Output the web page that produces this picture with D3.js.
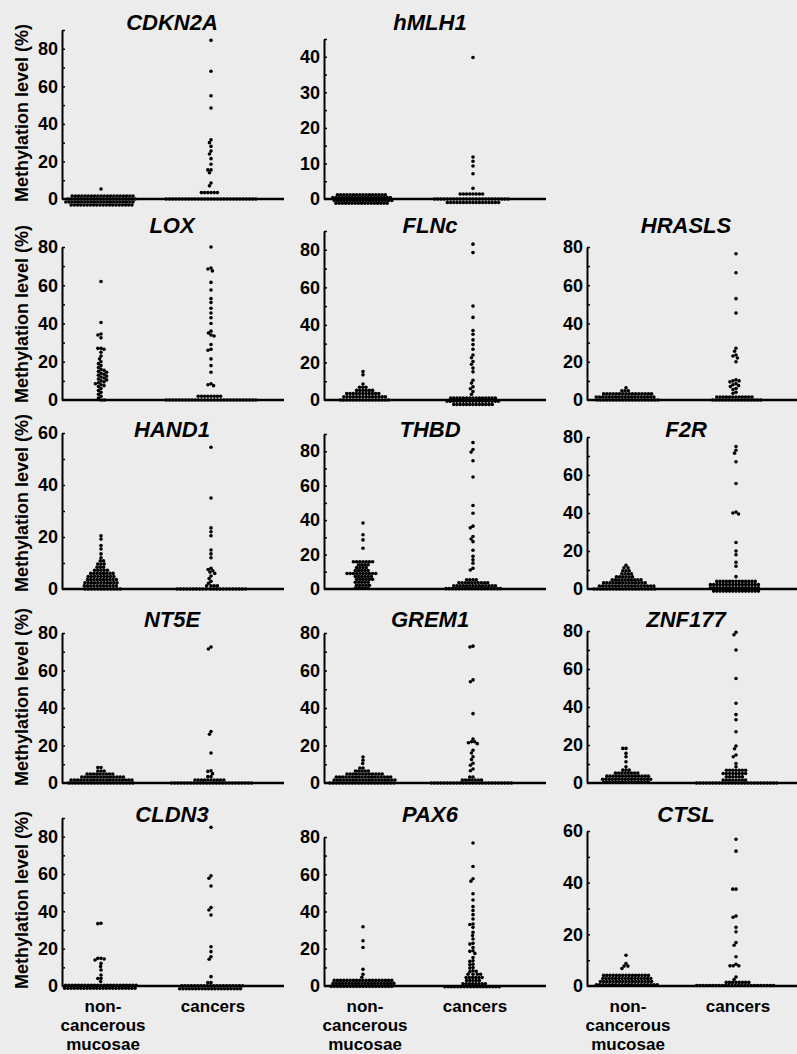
<!DOCTYPE html>
<html>
<head>
<meta charset="utf-8">
<script src="https://cdn.jsdelivr.net/npm/d3@7"></script>
<style>
  body { margin: 0; background: #ececec; }
  text { font-family: "Liberation Sans", Arial, sans-serif; font-weight: bold; fill: #000; }
</style>
</head>
<body>
<div id="chart"></div>
<script>
// gene panels, in reading order
const genes = ["CDKN2A", "hMLH1", "LOX", "FLNc", "HRASLS", "HAND1", "THBD", "F2R",
               "NT5E", "GREM1", "ZNF177", "CLDN3", "PAX6", "CTSL"];
const axisMax = [90, 45, 80, 90, 80, 60, 90, 80, 80, 80, 80, 90, 80, 60];
const tickLabels = [
  [0, 20, 40, 60, 80], [0, 10, 20, 30, 40], [0, 20, 40, 60, 80], [0, 20, 40, 60, 80],
  [0, 20, 40, 60, 80], [0, 20, 40, 60], [0, 20, 40, 60, 80], [0, 20, 40, 60, 80],
  [0, 20, 40, 60, 80], [0, 20, 40, 60, 80], [0, 20, 40, 60, 80], [0, 20, 40, 60, 80],
  [0, 20, 40, 60, 80], [0, 20, 40, 60]
];
const groups = ["non-cancerous mucosae", "cancers"];

// methylation level (%) per sample
const cdkn2aNon = [5.3,
  1.6,1.6,1.6,1.6,1.6,1.6,1.6,1.6,1.6,1.6, 1.6,1.6,1.6,1.6,1.6,1.6,1.6,1.6,1.6,1.6,
  0,0,0,0,0,0,0,0,0,0, 0,0,0,0,0,0,0,0,0,0, 0,0,
  -1.6,-1.6,-1.6,-1.6,-1.6,-1.6,-1.6,-1.6,-1.6,-1.6, -1.6,-1.6,-1.6,-1.6,-1.6,-1.6,-1.6,-1.6,-1.6,-1.6, -1.6,-1.6,
  -3.2,-3.2,-3.2,-3.2,-3.2,-3.2,-3.2,-3.2,-3.2,-3.2, -3.2,-3.2,-3.2,-3.2,-3.2,-3.2,-3.2,-3.2,-3.2,-3.2];
const cdkn2aCan = [84.5,68,55,48.5,31.5,30,28,25.5,24,21.5,18.5,15.5,15.5,14,8.5,7,
  3.4,3.4,3.4,3.4,3.4,3.4,
  0,0,0,0,0,0,0,0,0,0, 0,0,0,0,0,0,0,0,0,0, 0,0,0,0,0,0,0,0,0];

const hmlh1Non = [
  1.2,1.2,1.2,1.2,1.2,1.2,1.2,1.2,1.2,1.2, 1.2,1.2,1.2,1.2,1.2,1.2,
  0.4,0.4,0.4,0.4,0.4,0.4,0.4,0.4,0.4,0.4, 0.4,0.4,0.4,0.4,0.4,0.4,0.4,0.4,0.4,
  -0.4,-0.4,-0.4,-0.4,-0.4,-0.4,-0.4,-0.4,-0.4,-0.4, -0.4,-0.4,-0.4,-0.4,-0.4,-0.4,-0.4,-0.4,-0.4,
  -1.2,-1.2,-1.2,-1.2,-1.2,-1.2,-1.2,-1.2,-1.2,-1.2, -1.2,-1.2,-1.2,-1.2,-1.2,-1.2,-1.2];
const hmlh1Can = [39.8,11.8,10.6,9.3,7.1,3,
  1.4,1.4,1.4,1.4,1.4,1.4,1.4,1.4,
  0,0,0,0,0,0,0,0,0,0, 0,0,0,0,0,0,0,0,0,0, 0,0,0,0,
  -1,-1,-1,-1,-1,-1,-1,-1,-1,-1, -1,-1,-1,-1,-1,-1,-1];

const loxNon = [62,40.5,34.5,34,32.5,27,27,26.5,25,23,21.5,20,19,18,17,16,
  15.5,15,14.5,14,13.5,13,12.5,12,11.5,11,10.5,10,9.5,9,8.5,8,7.5,7,
  6,5,4,3,2,1,0,0];
const loxCan = [80,69,68.5,67.5,61.5,57.5,53,51,48,45.5,43,40,36,35,34,33.5,29,26.5,26,21.5,
  18,14.5,8.5,8,7.5,
  2,2,2,2,2,2,2,2,
  0,0,0,0,0,0,0,0,0,0, 0,0,0,0,0,0,0,0,0,0, 0,0,0,0,0,0,0,0,0];

const flncNon = [15.2,13.4,8.5, 6.8,6.8,6.8,
  5.1,5.1,5.1,5.1,5.1,5.1,
  3.4,3.4,3.4,3.4,3.4,3.4,3.4,3.4,3.4,3.4,3.4,
  1.7,1.7,1.7,1.7,1.7,1.7,1.7,1.7,1.7,1.7,1.7,1.7,1.7,1.7,
  0,0,0,0,0,0,0,0,0,0,0,0,0,0,0,0];
const flncCan = [83,78.5,50,44,37,35,32,29.5,27,24,22.5,20.5,19,17,15,10.5,9,7,6,4.5,3,
  1,1,1,1,1,1,1,1,1,1,1,1,1,1,1,
  -0.7,-0.7,-0.7,-0.7,-0.7,-0.7,-0.7,-0.7,-0.7,-0.7,-0.7,-0.7,-0.7,-0.7,-0.7,-0.7,-0.7,
  -2.4,-2.4,-2.4,-2.4,-2.4,-2.4,-2.4,-2.4,-2.4,-2.4,-2.4,-2.4,-2.4];

const hraslsNon = [6.4, 4.8,4.8,4.8,
  3.2,3.2,3.2,3.2,3.2,3.2,3.2,3.2,3.2,3.2,3.2,3.2,3.2,3.2,3.2,3.2,
  1.6,1.6,1.6,1.6,1.6,1.6,1.6,1.6,1.6,1.6,1.6,1.6,1.6,1.6,1.6,1.6,1.6,1.6,1.6,
  0,0,0,0,0,0,0,0,0,0,0,0,0,0,0,0,0,0,0,0];
const hraslsCan = [76.5,66.5,53,45.5,27,25.5,23.5,23,22,20,10.5,10,10,9.5,8.5,8,7.5,7,6,5.5,4,3.5,
  1.6,1.6,1.6,1.6,1.6,1.6,1.6,1.6,1.6,1.6,1.6,1.6,
  0,0,0,0,0,0,0,0,0,0,0,0,0,0,0,0];

const hand1Non = [20.5,19.2,16.7,15.4,13.5,12, 10.8,10.8, 9.6,9.6,9.6, 8.4,8.4,8.4,
  7.2,7.2,7.2,7.2,7.2, 6,6,6,6,6,6,6,6, 4.8,4.8,4.8,4.8,4.8,4.8,4.8,4.8,4.8,
  3.6,3.6,3.6,3.6,3.6,3.6,3.6,3.6,3.6,3.6,
  2.4,2.4,2.4,2.4,2.4,2.4,2.4,2.4,2.4,2.4,2.4,
  1.2,1.2,1.2,1.2,1.2,1.2,1.2,1.2,1.2,1.2,1.2,
  0,0,0,0,0,0,0,0,0,0,0,0];
const hand1Can = [54.5,35,23.5,22,20.5,15,13.5,12,8,7.5,7,6.5,6,5,4,3,2.2,
  1.2,1.2,1.2,1.2,
  0,0,0,0,0,0,0,0,0,0, 0,0,0,0,0,0,0,0,0,0, 0,0];

const thbdNon = [38.3,31.5,28.5,23.7,
  15.8,15.8,15.8,15.8,15.8,15.8,15.8, 14.1,14.1,14.1,14.1, 12.4,12.4,12.4,12.4,
  10.7,10.7,10.7,10.7,10.7, 9,9,9,9,9,9,9,9,9,9, 7.3,7.3,7.3,7.3,7.3,7.3,
  5.6,5.6,5.6,5.6,5.6,5.6, 3.9,3.9,3.9,3.9,3.9, 2.2,2.2,2.2,2.2,2.2, 0.5,0.5,0.5,0.5,0.5];
const thbdCan = [85,81,79.5,74.5,65,48.5,44,36.5,35.5,30.5,29,27.5,22.5,19,17,15,12,11,
  5.3,5.3,5.3,5.3, 3.6,3.6,3.6,3.6,3.6,3.6,3.6,3.6,3.6,3.6,
  1.9,1.9,1.9,1.9,1.9,1.9,1.9,1.9,1.9,1.9,1.9,1.9,1.9,1.9,
  0.2,0.2,0.2,0.2,0.2,0.2,0.2,0.2,0.2,0.2,0.2,0.2,0.2,0.2,0.2,0.2,0.2,0.2];

const f2rNon = [12.5, 11.2,11.2, 9.6,9.6,9.6, 8,8,8,8, 6.4,6.4,6.4,6.4,6.4,6.4,
  4.8,4.8,4.8,4.8,4.8,4.8,4.8,4.8,4.8,4.8,
  3.2,3.2,3.2,3.2,3.2,3.2,3.2,3.2,3.2,3.2,3.2,3.2,3.2,3.2,
  1.6,1.6,1.6,1.6,1.6,1.6,1.6,1.6,1.6,1.6,1.6,1.6,1.6,1.6,1.6,1.6,1.6,1.6,
  0,0,0,0,0,0,0,0,0,0,0,0,0,0,0,0,0,0,0,0];
const f2rCan = [75,73,71.5,67,55.5,40.5,40,39.5,24.5,20,18,14,12,6.5,
  4,4,4,4,4,4,4,4,4,4,4,4,4,
  2.3,2.3,2.3,2.3,2.3,2.3,2.3,2.3,2.3,2.3,2.3,2.3,2.3,2.3,2.3,2.3,
  0.6,0.6,0.6,0.6,0.6,0.6,0.6,0.6,0.6,0.6,0.6,0.6,0.6,0.6,0.6,0.6,
  -1.1,-1.1,-1.1,-1.1,-1.1,-1.1,-1.1,-1.1,-1.1,-1.1,-1.1,-1.1,-1.1,-1.1,-1.1];

const nt5eNon = [8.3,8.3, 6.4,6.4,6.4, 4.8,4.8,4.8,4.8,4.8,4.8,4.8,4.8,4.8,
  3.2,3.2,3.2,3.2,3.2,3.2,3.2,3.2,3.2,3.2,3.2,3.2,3.2,3.2,
  1.6,1.6,1.6,1.6,1.6,1.6,1.6,1.6,1.6,1.6,1.6,1.6,1.6,1.6,1.6,1.6,1.6,1.6,1.6,1.6,
  0,0,0,0,0,0,0,0,0,0,0,0,0,0,0,0,0,0,0,0,0];
const nt5eCan = [72.5,71.5,27.5,26,16,6.5,6.2,5,3.4,3.4,
  1.6,1.6,1.6,1.6,1.6,1.6,1.6,1.6,1.6,1.6,
  0,0,0,0,0,0,0,0,0,0, 0,0,0,0,0,0,0,0,0,0, 0,0,0,0,0,0];

const grem1Non = [13.9,12.1,10.4, 8,8, 6.4,6.4,6.4,6.4,6.4,
  4.8,4.8,4.8,4.8,4.8,4.8,4.8,4.8,4.8,4.8,4.8,4.8,
  3.2,3.2,3.2,3.2,3.2,3.2,3.2,3.2,3.2,3.2,3.2,3.2,3.2,3.2,3.2,3.2,3.2,3.2,
  1.6,1.6,1.6,1.6,1.6,1.6,1.6,1.6,1.6,1.6,1.6,1.6,1.6,1.6,1.6,1.6,1.6,1.6,1.6,1.6,
  0,0,0,0,0,0,0,0,0,0,0,0,0,0,0,0,0,0,0,0,0];
const grem1Can = [73,72.5,55,54,37,23.5,22,22,21.5,21,17.5,16,14,12.5,10.5,9.5,7.5,6.5,3.2,3.2,
  1.6,1.6,1.6,1.6,1.6,1.6,1.6,
  0,0,0,0,0,0,0,0,0,0, 0,0,0,0,0,0,0,0,0,0, 0,0,0,0,0,0];

const znf177Non = [18.2,18.2,15.6,13.8,11.2,8.5, 6.8,6.8,6.8,
  5.2,5.2,5.2,5.2,5.2,5.2,5.2,5.2,
  3.6,3.6,3.6,3.6,3.6,3.6,3.6,3.6,3.6,3.6,3.6,3.6,3.6,3.6,
  2,2,2,2,2,2,2,2,2,2,2,2,2,2,2,2,
  0.4,0.4,0.4,0.4,0.4,0.4,0.4,0.4,0.4,0.4,0.4,0.4,0.4,0.4,0.4];
const znf177Can = [79.3,78,70,55,42,36,33.3,27,19.5,18,14.7,13.8,10.3,8.5,
  6.7,6.7,6.7,6.7,6.7,6.7,6.7, 5,5,5,5,5,5,5,5, 3.3,3.3,3.3,3.3,3.3,3.3,
  1.6,1.6,1.6,1.6,1.6,1.6,1.6,1.6,
  0,0,0,0,0,0,0,0,0,0, 0,0,0,0,0,0,0,0,0,0, 0,0,0,0,0,0];

const cldn3Non = [33.6,33.4,14.8,14.8,14.5,13.9,12.1,10.4,8.6,5.9,4.1,4,2.4,
  0.4,0.4,0.4,0.4,0.4,0.4,0.4,0.4,0.4,0.4,0.4,0.4,0.4,0.4,0.4,0.4,0.4,0.4,0.4,0.4,0.4,0.4,0.4,
  -1.2,-1.2,-1.2,-1.2,-1.2,-1.2,-1.2,-1.2,-1.2,-1.2,-1.2,-1.2,-1.2,-1.2,-1.2,-1.2,-1.2,-1.2,-1.2,-1.2,-1.2,-1.2,-1.2];
const cldn3Can = [85,59,57.7,53.6,42,40.7,38,21,18.4,15.7,14.3,5,1.8,1.8,
  0.1,0.1,0.1,0.1,0.1,0.1,0.1,0.1,0.1,0.1,0.1,0.1,0.1,0.1,0.1,0.1,0.1,0.1,0.1,0.1,
  -1.5,-1.5,-1.5,-1.5,-1.5,-1.5,-1.5,-1.5,-1.5,-1.5,-1.5,-1.5,-1.5,-1.5,-1.5,-1.5,-1.5,-1.5,-1.5,-1.5];

const pax6Non = [31.8,24.3,20.7,9,6.3,4.7,
  3,3,3,3,3,3,3,3,3,3,3,3,3,3,3,3,3,3,3,
  1.4,1.4,1.4,1.4,1.4,1.4,1.4,1.4,1.4,1.4,1.4,1.4,1.4,1.4,1.4,1.4,1.4,1.4,1.4,1.4,
  -0.2,-0.2,-0.2,-0.2,-0.2,-0.2,-0.2,-0.2,-0.2,-0.2,-0.2,-0.2,-0.2,-0.2,-0.2,-0.2,-0.2,-0.2,-0.2,-0.2];
const pax6Can = [76.8,64.2,57.6,56.3,49.5,46.2,42.6,40.5,38.3,36,33.3,33,31.5,28.8,27.1,25.2,
  22.9,22.5,20.7,18.9,18.6,17.5,15.3,13.5,13.2,11.7,11.4,9.9,9.6,8.1,7.9,7.7,
  6.3,6.3,6.3,6.3, 4.6,4.6,4.6,4.6,4.6,4.6, 2.9,2.9,2.9,2.9,2.9,
  1.2,1.2,1.2,1.2,1.2,1.2,1.2,1.2,
  -0.4,-0.4,-0.4,-0.4,-0.4,-0.4,-0.4,-0.4,-0.4,-0.4,-0.4,-0.4,-0.4,-0.4,-0.4,-0.4,-0.4,-0.4];

const ctslNon = [11.9,8.7,7.7,7.7,6.8,
  4.1,4.1,4.1,4.1,4.1,4.1,4.1,4.1,4.1,4.1,4.1,4.1,4.1,4.1,4.1,
  2.9,2.9,2.9,2.9,2.9,2.9,2.9,2.9,2.9,2.9,2.9,2.9,2.9,2.9,2.9,2.9,
  1.7,1.7,1.7,1.7,1.7,1.7,1.7,1.7,1.7,1.7,1.7,1.7,1.7,1.7,1.7,1.7,1.7,
  0.5,0.5,0.5,0.5,0.5,0.5,0.5,0.5,0.5,0.5,0.5,0.5,0.5,0.5,0.5,0.5,0.5,0.5,0.5,0.5];
const ctslCan = [56.8,52.2,37.5,37.5,27.1,26.6,22.7,21,16.8,15.8,11.3,8.4,7.8,7.8,7.8,3.5,2.5,
  1.4,1.4,1.4,1.4,1.4,1.4,1.4,1.4,
  0.2,0.2,0.2,0.2,0.2,0.2,0.2,0.2,0.2,0.2,0.2,0.2,0.2,0.2,0.2,0.2,0.2,0.2,0.2,0.2,0.2,0.2,0.2,0.2,0.2];

const nonValues = [cdkn2aNon, hmlh1Non, loxNon, flncNon, hraslsNon, hand1Non, thbdNon, f2rNon,
                   nt5eNon, grem1Non, znf177Non, cldn3Non, pax6Non, ctslNon];
const canValues = [cdkn2aCan, hmlh1Can, loxCan, flncCan, hraslsCan, hand1Can, thbdCan, f2rCan,
                   nt5eCan, grem1Can, znf177Can, cldn3Can, pax6Can, ctslCan];

// ---- layout ----
const W = 797, H = 1054;
const cells = [[0,0],[0,1],[1,0],[1,1],[1,2],[2,0],[2,1],[2,2],[3,0],[3,1],[3,2],[4,0],[4,1],[4,2]];
const rowBase = [199, 400, 589, 783, 986];
const rowTitle = [30, 233, 437, 627, 822];
const colAxis = [62, 324, 587];
const colTitle = [172, 430, 686];
const axisLen = [169, 160, 153, 169, 153, 156, 155, 152, 150, 150, 152, 168, 149, 155];
const R = 1.8, D = 3.2;

const svg = d3.select("#chart").append("svg")
  .attr("width", W).attr("height", H);

svg.append("rect").attr("width", W).attr("height", H).attr("fill", "#ececec");

// beeswarm: each dot goes to the free x closest to the group centre
function swarm(vals, cx, y) {
  const pts = vals.map(v => ({ v, py: y(v) })).sort((a, b) => a.py - b.py);
  const placed = [];
  pts.forEach(p => {
    const iv = placed.filter(q => Math.abs(q.py - p.py) < D).map(q => {
      const dx = Math.sqrt(D * D - (q.py - p.py) ** 2);
      return [q.px - dx, q.px + dx];
    });
    const cands = [cx];
    iv.forEach(([a, b]) => cands.push(a, b));
    cands.sort((a, b) => Math.abs(a - cx) - Math.abs(b - cx));
    p.px = cands.find(xx => iv.every(([a, b]) => xx <= a + 1e-6 || xx >= b - 1e-6));
    placed.push(p);
  });
  return placed;
}

genes.forEach((gene, i) => {
  const [r, c] = cells[i];
  const ax = colAxis[c], y0 = rowBase[r];
  const g = svg.append("g");

  const y = d3.scaleLinear().domain([0, axisMax[i]]).range([y0, y0 - axisLen[i]]);
  const x = d3.scalePoint().domain(groups).range([ax + 39, ax + 149]);
  const xEnd = c === 2 ? W : ax + 222;

  // baseline
  g.append("line")
    .attr("x1", ax).attr("x2", xEnd).attr("y1", y0).attr("y2", y0)
    .attr("stroke", "#000").attr("stroke-width", 2.5);

  // minor inward ticks
  const step = axisMax[i] === 45 ? 5 : 10;
  g.append("g")
    .attr("transform", `translate(${ax},0)`)
    .call(d3.axisRight(y).tickValues(d3.range(step, axisMax[i] + 0.1, step)).tickSize(3).tickFormat(""))
    .call(s => s.select(".domain").remove())
    .selectAll("line").attr("stroke-width", 1.5);

  // y axis with labels
  const yAxis = g.append("g")
    .attr("transform", `translate(${ax},0)`)
    .call(d3.axisLeft(y).tickValues(tickLabels[i]).tickSize(0).tickPadding(4).tickSizeOuter(0));
  yAxis.select(".domain").attr("stroke-width", 2);
  yAxis.selectAll("text")
    .attr("font-size", 18)
    .attr("font-family", "'Liberation Sans', Arial, sans-serif")
    .attr("font-weight", "bold");

  // title
  g.append("text")
    .attr("x", colTitle[c]).attr("y", rowTitle[r])
    .attr("text-anchor", "middle")
    .attr("font-size", 22).attr("font-style", "italic")
    .text(gene);

  // dots
  [nonValues[i], canValues[i]].forEach((vals, k) => {
    g.selectAll(null)
      .data(swarm(vals, x(groups[k]), y))
      .enter().append("circle")
      .attr("cx", d => d.px)
      .attr("cy", d => d.py)
      .attr("r", R)
      .attr("fill", "#000");
  });

  if (c === 0) {
    g.append("text")
      .attr("transform", `translate(28,${y0 - 86}) rotate(-90)`)
      .attr("text-anchor", "middle")
      .attr("font-size", 18)
      .text("Methylation level (%)");
  }

  if (r === 4) {
    ["non-", "cancerous", "mucosae"].forEach((t, j) => {
      g.append("text")
        .attr("x", x(groups[0]) + 2).attr("y", 1012 + j * 19)
        .attr("text-anchor", "middle").attr("font-size", 17)
        .text(t);
    });
    g.append("text")
      .attr("x", x(groups[1]) + 2).attr("y", 1012)
      .attr("text-anchor", "middle").attr("font-size", 17)
      .text("cancers");
  }
});
</script>
</body>
</html>
